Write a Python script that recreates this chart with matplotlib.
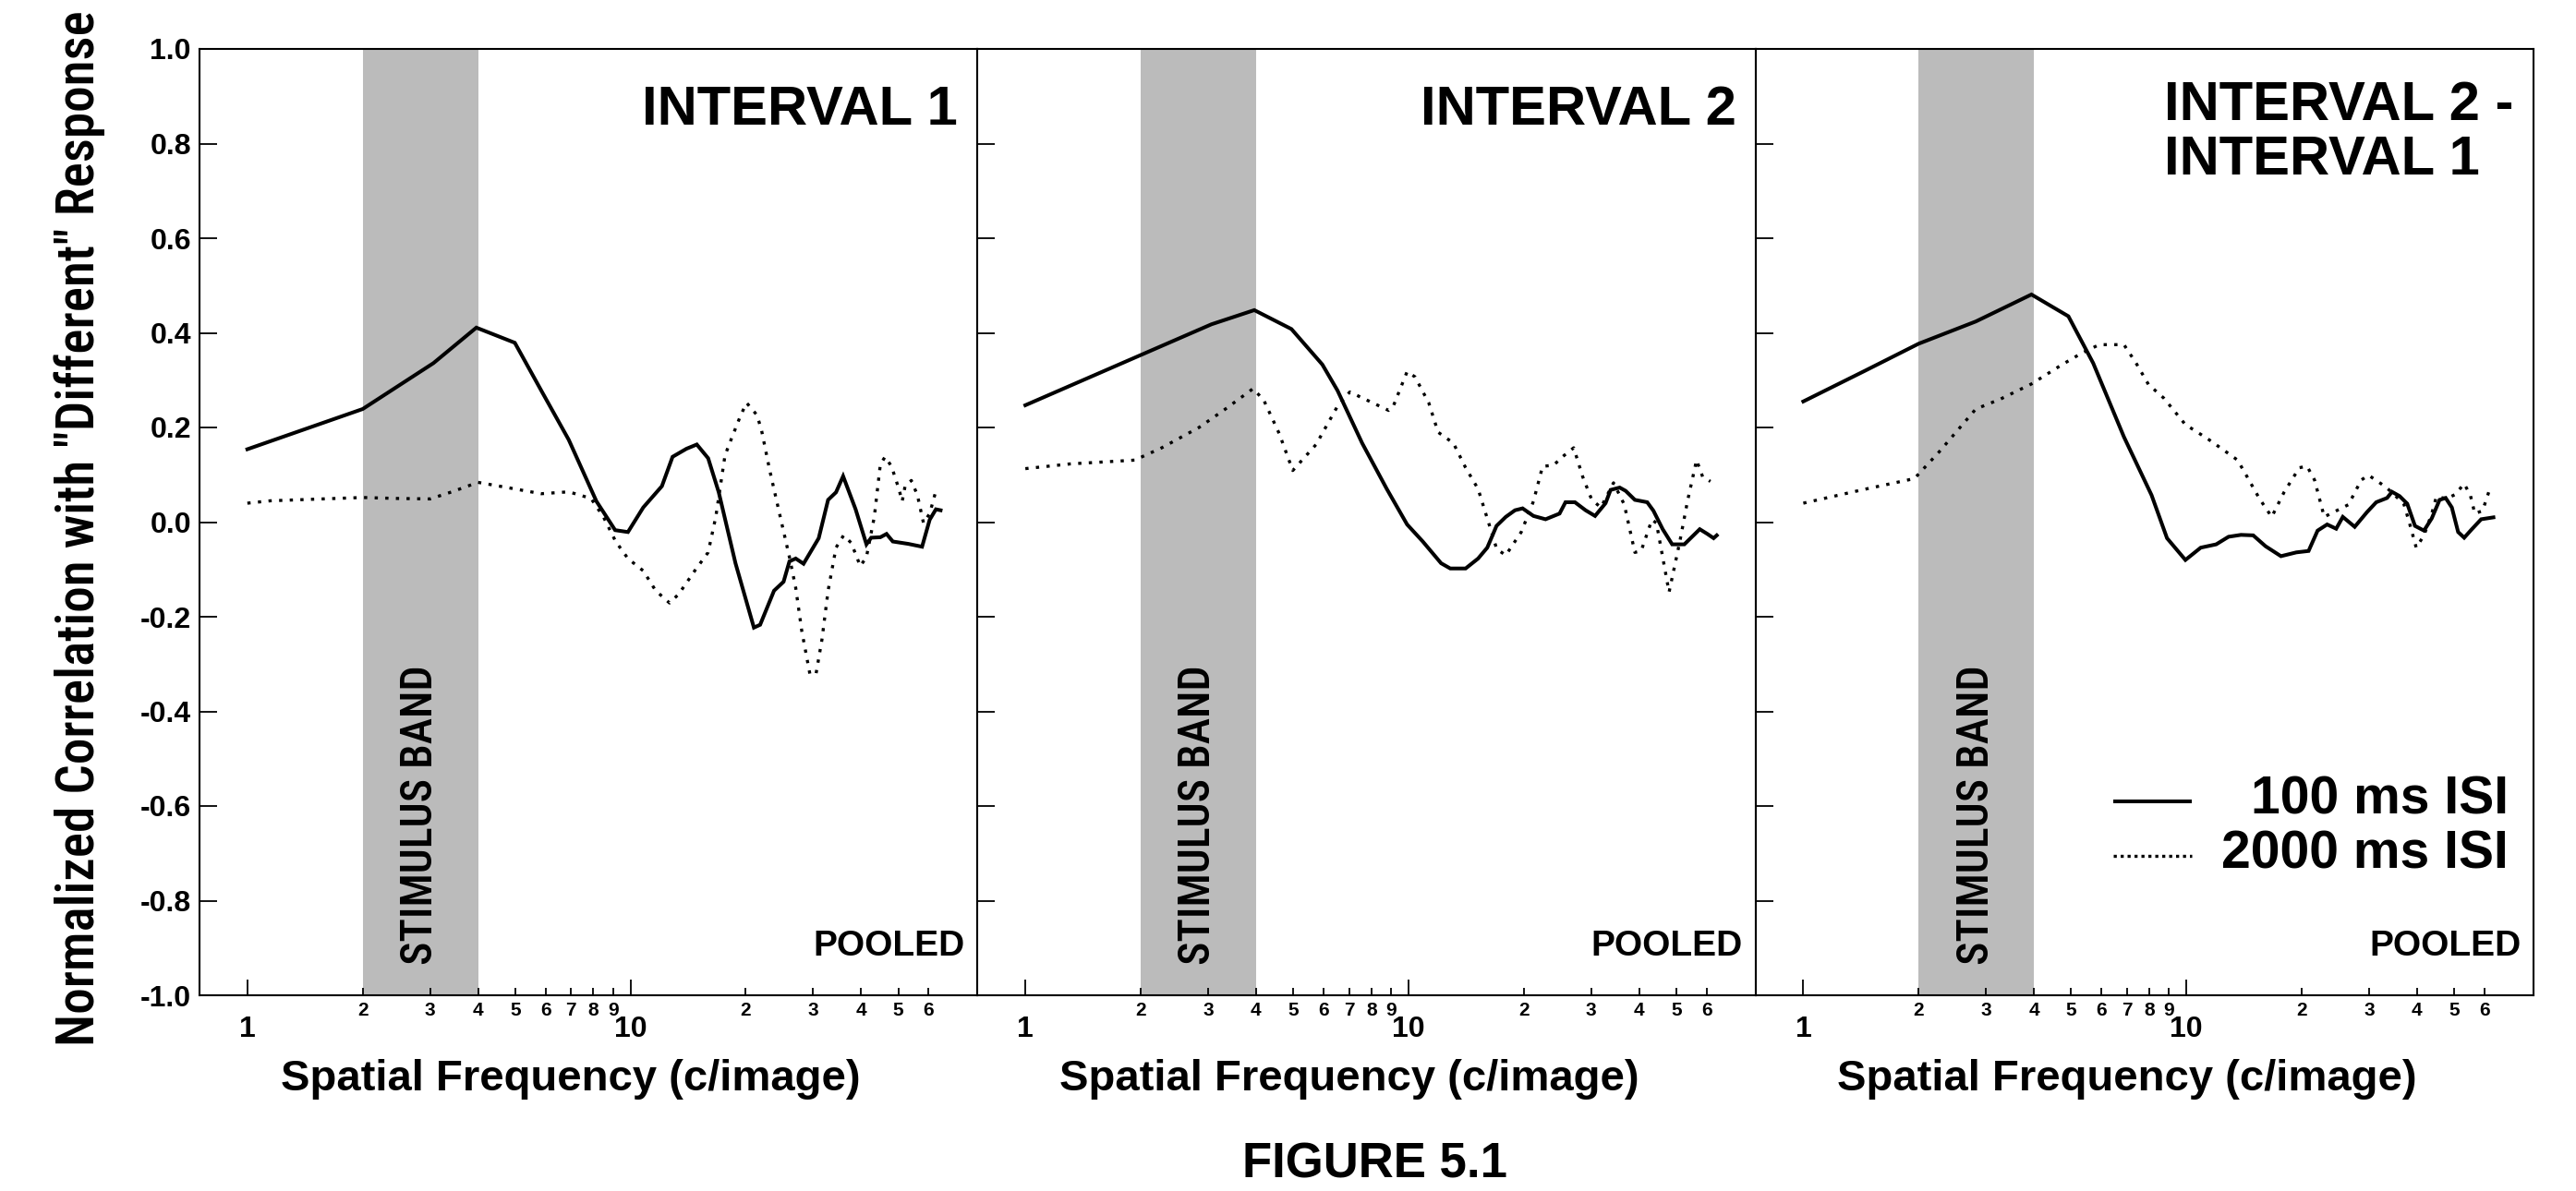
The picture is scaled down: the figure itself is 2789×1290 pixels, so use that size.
import matplotlib
matplotlib.use("Agg")
import matplotlib.pyplot as plt
from matplotlib import font_manager
from matplotlib.font_manager import FontProperties
from matplotlib.ticker import FixedLocator, FixedFormatter
import matplotlib.transforms as mtransforms

# ---------------------------------------------------------------- data
# Interval 1
freq_i1_100 = [1.0, 2.0, 3.06, 3.96, 4.99, 5.85, 6.9, 8.15, 9.12, 9.85, 10.8, 12.08, 12.88,
               14.0, 14.9, 15.95, 17.0, 18.8, 21.0, 21.8, 23.7, 25.1, 26.0, 27.0, 28.3, 31.0,
               32.8, 34.4, 35.9, 38.7, 41.3, 42.5, 44.9, 46.6, 48.4, 53.1, 57.7, 60.4, 62.7, 64.5]
corr_i1_100 = [0.154, 0.239, 0.336, 0.411, 0.379, 0.278, 0.174, 0.044, -0.017, -0.021, 0.031,
               0.076, 0.138, 0.155, 0.164, 0.135, 0.063, -0.087, -0.223, -0.217, -0.145, -0.126,
               -0.083, -0.077, -0.088, -0.034, 0.047, 0.063, 0.097, 0.027, -0.047, -0.033,
               -0.032, -0.025, -0.041, -0.046, -0.052, 0.005, 0.027, 0.025]
freq_i1_2000 = [1.0, 1.147, 1.57, 2.0, 2.45, 3.0, 3.42, 4.0, 4.77, 5.85, 6.9, 7.89, 8.5, 9.15,
                9.85, 10.8, 11.64, 12.65, 13.37, 14.8, 15.95, 16.7, 17.65, 18.3, 19.4, 20.1,
                21.4, 22.0, 23.1, 24.4, 26.0, 27.0, 28.0, 29.4, 30.5, 31.6, 32.8, 34.4, 36.0,
                37.7, 39.8, 41.3, 43.3, 44.9, 46.2, 48.0, 50.2, 51.2, 52.1, 54.1, 56.1, 58.2,
                60.4, 62.7]
corr_i1_2000 = [0.040, 0.045, 0.049, 0.052, 0.050, 0.049, 0.064, 0.084, 0.073, 0.060, 0.064,
                0.050, 0.011, -0.041, -0.077, -0.103, -0.145, -0.171, -0.152, -0.100, -0.064,
                0.011, 0.141, 0.174, 0.226, 0.252, 0.226, 0.193, 0.109, 0.024, -0.074, -0.139,
                -0.230, -0.321, -0.321, -0.249, -0.145, -0.054, -0.028, -0.044, -0.093, -0.074,
                0.011, 0.122, 0.138, 0.118, 0.070, 0.044, 0.076, 0.088, 0.057, -0.002, 0.018,
                0.066]

# Interval 2
freq_i2_100 = [1.0, 2.0, 3.06, 3.96, 4.95, 5.96, 6.53, 7.57, 8.78, 9.92, 10.9, 12.17, 12.86,
               14.1, 15.2, 16.06, 16.98, 17.95, 18.97, 19.86, 21.2, 22.8, 24.8, 25.7, 27.2,
               29.0, 30.7, 32.7, 33.7, 35.6, 36.9, 39.0, 42.0, 43.6, 46.1, 48.8, 52.5, 57.6,
               60.3, 62.6, 63.8]
corr_i2_100 = [0.247, 0.353, 0.418, 0.448, 0.408, 0.333, 0.278, 0.167, 0.070, -0.005, -0.041,
               -0.087, -0.098, -0.098, -0.077, -0.054, -0.008, 0.011, 0.025, 0.029, 0.013,
               0.006, 0.018, 0.042, 0.042, 0.025, 0.013, 0.040, 0.068, 0.073, 0.066, 0.047,
               0.042, 0.024, -0.015, -0.047, -0.047, -0.015, -0.025, -0.034, -0.028]
freq_i2_2000 = [1.0, 1.31, 1.93, 2.27, 2.84, 3.29, 3.93, 4.19, 4.6, 4.99, 5.74, 6.53, 7.03,
                8.88, 9.13, 9.92, 10.4, 11.3, 11.95, 13.1, 14.1, 15.2, 16.2, 17.0, 17.95, 19.7,
                21.2, 22.4, 23.9, 25.5, 27.0, 28.5, 30.1, 31.8, 34.3, 36.6, 39.0, 40.5, 43.2,
                44.4, 47.9, 51.1, 53.5, 56.5, 58.6, 61.4]
corr_i2_2000 = [0.113, 0.123, 0.131, 0.157, 0.200, 0.236, 0.282, 0.258, 0.187, 0.109, 0.164,
                0.245, 0.275, 0.236, 0.245, 0.318, 0.307, 0.252, 0.190, 0.167, 0.115, 0.070,
                -0.002, -0.057, -0.070, -0.021, 0.044, 0.118, 0.120, 0.141, 0.157, 0.096, 0.047,
                0.031, 0.083, 0.037, -0.064, -0.061, 0.005, -0.002, -0.148, -0.041, 0.044,
                0.131, 0.096, 0.086]

# Interval 2 - Interval 1
freq_d_100 = [1.0, 1.45, 2.0, 2.82, 3.94, 4.92, 5.71, 6.87, 8.11, 8.9, 9.94, 10.9, 11.96, 12.88,
              13.88, 14.94, 16.09, 17.65, 19.36, 20.84, 22.0, 23.3, 24.6, 25.6, 27.5, 29.6,
              31.3, 33.4, 34.4, 36.0, 37.7, 39.5, 41.7, 43.7, 45.8, 47.5, 49.3, 51.2, 53.1,
              55.6, 58.8, 63.3]
corr_d_100 = [0.255, 0.320, 0.377, 0.424, 0.481, 0.435, 0.336, 0.180, 0.057, -0.034, -0.080,
              -0.054, -0.047, -0.031, -0.027, -0.028, -0.051, -0.072, -0.064, -0.061, -0.018,
              -0.005, -0.014, 0.011, -0.010, 0.021, 0.042, 0.051, 0.064, 0.055, 0.039, -0.008,
              -0.018, 0.008, 0.047, 0.051, 0.031, -0.021, -0.033, -0.015, 0.006, 0.010]
freq_d_2000 = [1.0, 1.42, 1.95, 2.26, 2.82, 3.27, 3.94, 4.74, 5.3, 5.92, 6.87, 7.39, 7.96, 8.73,
               9.94, 11.32, 12.42, 13.6, 14.4, 15.5, 16.7, 17.98, 19.72, 20.65, 21.6, 22.9,
               26.5, 28.6, 29.9, 32.5, 34.4, 37.0, 38.4, 39.8, 41.7, 43.7, 44.9, 47.9, 50.2,
               53.1, 55.1, 56.6, 59.3, 62.1]
corr_d_2000 = [0.040, 0.068, 0.092, 0.148, 0.239, 0.260, 0.292, 0.333, 0.356, 0.375, 0.375,
               0.336, 0.291, 0.262, 0.206, 0.177, 0.154, 0.131, 0.096, 0.050, 0.011, 0.063,
               0.115, 0.118, 0.089, 0.011, 0.037, 0.089, 0.099, 0.079, 0.063, 0.037, -0.008,
               -0.054, -0.028, 0.018, 0.053, 0.050, 0.058, 0.081, 0.057, 0.018, 0.024, 0.073]

panel_titles = [["INTERVAL 1"], ["INTERVAL 2"], ["INTERVAL 2 -", "INTERVAL 1"]]
series = [
    (freq_i1_100, corr_i1_100, freq_i1_2000, corr_i1_2000),
    (freq_i2_100, corr_i2_100, freq_i2_2000, corr_i2_2000),
    (freq_d_100, corr_d_100, freq_d_2000, corr_d_2000),
]
legend_labels = ["100 ms ISI", "2000 ms ISI"]
band_range = (2.0, 4.0)

major_ticks = [1, 10]
major_labels = ["1", "10"]
minor_ticks = [2, 3, 4, 5, 6, 7, 8, 9, 20, 30, 40, 50, 60]
minor_labels = ["2", "3", "4", "5", "6", "7", "8", "9", "2", "3", "4", "5", "6"]
y_ticks = [-1.0, -0.8, -0.6, -0.4, -0.2, 0.0, 0.2, 0.4, 0.6, 0.8, 1.0]

# ---------------------------------------------------------------- fonts
names = {f.name for f in font_manager.fontManager.ttflist}
WIDE = "Liberation Sans" if "Liberation Sans" in names else "DejaVu Sans"

_WEIGHTS = {"thin": 100, "extralight": 200, "ultralight": 200, "light": 300,
            "normal": 400, "regular": 400, "book": 400, "medium": 500,
            "semibold": 600, "demibold": 600, "demi": 600, "bold": 700,
            "extrabold": 800, "heavy": 800, "black": 900, "ultrabold": 800}


def _weight(w):
    if isinstance(w, (int, float)):
        return int(w)
    return _WEIGHTS.get(str(w).lower().replace(" ", "").replace("-", ""), 400)


def condensed_font():
    """Pick an installed narrow sans face, preferring Helvetica-like families."""
    family_rank = ["liberation", "roboto", "noto sans", "open sans", "dejavu sans"]
    best, best_key = None, None
    for f in font_manager.fontManager.ttflist:
        tag = (f.name + " " + f.fname).lower()
        base = tag.split("/")[-1]
        stretch = str(f.stretch).lower()
        narrow = ("narrow" in tag or "condensed" in tag or "cond" in base
                  or "condensed" in stretch)
        if not narrow or "mono" in tag or "italic" in tag or "oblique" in tag:
            continue
        if "extra" in base or "ultra" in base or "semi" in base:
            continue
        if str(f.style).lower() != "normal":
            continue
        rank = next((i for i, fam in enumerate(family_rank) if fam in f.name.lower()), 9)
        key = (rank, abs(_weight(f.weight) - 560))
        if best_key is None or key < best_key:
            best, best_key = f, key
    if best is None:
        return FontProperties(family=WIDE, weight="normal")
    return FontProperties(fname=best.fname)


NARROW_FP = condensed_font()

plt.rcParams["font.family"] = [WIDE, "DejaVu Sans"]
plt.rcParams["font.weight"] = "bold"
plt.rcParams["axes.unicode_minus"] = False

# ---------------------------------------------------------------- figure
W_PX, H_PX, DPI = 2789, 1290, 100
fig = plt.figure(figsize=(W_PX / DPI, H_PX / DPI), dpi=DPI)
fig.patch.set_facecolor("white")

ax_left, ax_w = 216, 842.3
ax_bottom, ax_h = 212, 1025

SOLID_LW = 2.9
DOT_LW = 2.4
DOT_PATTERN = (0, (1.05, 2.4))

axes = []
band_texts = []
title_pairs = []
for i in range(3):
    ax = fig.add_axes([(ax_left + i * ax_w) / W_PX, ax_bottom / H_PX,
                       ax_w / W_PX, ax_h / H_PX])
    axes.append(ax)
    f100, c100, f2000, c2000 = series[i]

    ax.axvspan(*band_range, color="#bbbbbb", lw=0, zorder=0)
    ax.plot(f100, c100, color="black", lw=SOLID_LW, solid_joinstyle="miter", zorder=3)
    ax.plot(f2000, c2000, color="black", lw=DOT_LW, linestyle=DOT_PATTERN,
            dash_capstyle="butt", zorder=3)

    ax.set_xscale("log")
    ax.set_xlim(0.75, 80.5)
    ax.set_ylim(-1.0, 1.0)

    ax.xaxis.set_major_locator(FixedLocator(major_ticks))
    ax.xaxis.set_major_formatter(FixedFormatter(major_labels))
    ax.xaxis.set_minor_locator(FixedLocator(minor_ticks))
    ax.xaxis.set_minor_formatter(FixedFormatter(minor_labels))
    ax.tick_params(axis="x", which="major", direction="in", length=12, width=1.3,
                   pad=16, labelsize=23)
    ax.tick_params(axis="x", which="minor", direction="in", length=6, width=1.3,
                   pad=5, labelsize=15)

    ax.set_yticks(y_ticks)
    ax.tick_params(axis="y", which="major", direction="in", length=13.5, width=1.3,
                   pad=6.5, labelsize=23, labelleft=(i == 0))

    for sp in ax.spines.values():
        sp.set_linewidth(1.5)
        sp.set_color("black")

    # axis label under each panel
    ax.text(0.4774, -0.1005, "Spatial Frequency (c/image)", transform=ax.transAxes,
            ha="center", va="baseline", fontsize=34, fontweight="bold")

    # panel title
    t = panel_titles[i]
    if len(t) == 1:
        ax.text(0.975, 0.920, t[0], transform=ax.transAxes, ha="right",
                va="baseline", fontsize=43, fontweight="bold")
    else:
        first = ax.text(0.975, 0.925, t[0], transform=ax.transAxes, ha="right",
                        va="baseline", fontsize=43, fontweight="bold")
        second = ax.text(0.52, 0.867, t[1], transform=ax.transAxes, ha="left",
                         va="baseline", fontsize=43, fontweight="bold")
        title_pairs.append((ax, first, second))

    ax.text(0.984, 0.042, "POOLED", transform=ax.transAxes, ha="right",
            va="baseline", fontsize=28, fontweight="bold")

    trans = mtransforms.blended_transform_factory(ax.transData, ax.transAxes)
    bt = ax.text((band_range[0] * band_range[1]) ** 0.5, 0.032, "STIMULUS BAND",
                 transform=trans, rotation=90, ha="center", va="bottom",
                 fontproperties=NARROW_FP.copy())
    bt.set_fontsize(32)
    band_texts.append(bt)

# legend in the third panel
ax3 = axes[2]
ax3.plot([0.4596, 0.5606], [0.2052, 0.2052], transform=ax3.transAxes,
         color="black", lw=SOLID_LW, solid_capstyle="butt")
ax3.plot([0.4596, 0.5606], [0.1473, 0.1473], transform=ax3.transAxes,
         color="black", lw=DOT_LW, linestyle=(0, (1.0, 1.25)), dash_capstyle="butt")
ax3.text(0.968, 0.1915, legend_labels[0], transform=ax3.transAxes, ha="right",
         va="baseline", fontsize=41, fontweight="bold")
ax3.text(0.968, 0.1346, legend_labels[1], transform=ax3.transAxes, ha="right",
         va="baseline", fontsize=41, fontweight="bold")

ylab = fig.text(86 / W_PX, (H_PX - 572) / H_PX,
                'Normalized Correlation with "Different" Response',
                rotation=90, ha="center", va="center",
                fontproperties=NARROW_FP.copy())
ylab.set_fontsize(39)

fig.text(1488 / W_PX, (H_PX - 1275) / H_PX, "FIGURE 5.1", ha="center", va="baseline",
         fontsize=38, fontweight="bold")

renderer = fig.canvas.get_renderer()

# size the narrow rotated texts to their intended run lengths (in pixels)
for txt, target in [(ylab, 1120.0)] + [(b, 325.0) for b in band_texts]:
    for _ in range(2):
        ext = txt.get_window_extent(renderer)
        txt.set_fontsize(txt.get_fontsize() * target / ext.height)

# left-align the second title line with the first one
for ax, first, second in title_pairs:
    x0 = first.get_window_extent(renderer).x0
    xa = ax.transAxes.inverted().transform((x0, 0))[0]
    second.set_x(xa)

fig.savefig("out.png", dpi=DPI, facecolor="white")
